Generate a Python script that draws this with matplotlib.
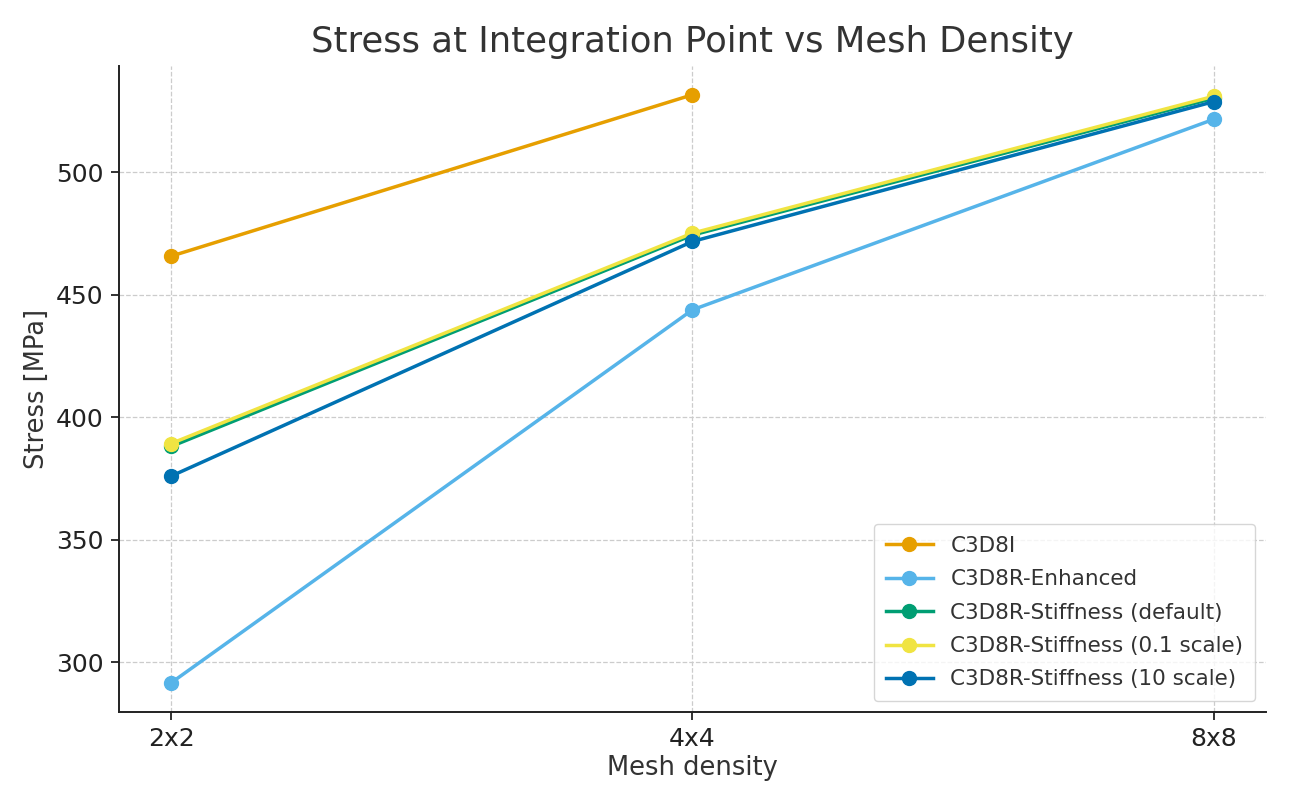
import matplotlib.pyplot as plt
import numpy as np

# ─── Data ────────────────────────────────────────────────────────────────────
meshes = ["2x2", "4x4", "8x8"]
c3d8i = [465.7, 531.6, np.nan]
c3d8r_enhanced = [291.5, 443.8, 521.6]
c3d8r_stiff_default = [388.0, 474.3, 530.2]
c3d8r_stiff_01 = [389.2, 475.1, 531.0]
c3d8r_stiff_10 = [375.9, 471.7, 528.8]

series = [
    ("C3D8I", c3d8i, "#E69F00"),
    ("C3D8R-Enhanced", c3d8r_enhanced, "#56B4E9"),
    ("C3D8R-Stiffness (default)", c3d8r_stiff_default, "#009E73"),
    ("C3D8R-Stiffness (0.1 scale)", c3d8r_stiff_01, "#F0E442"),
    ("C3D8R-Stiffness (10 scale)", c3d8r_stiff_10, "#0072B2"),
]

# ─── Plot ────────────────────────────────────────────────────────────────────
fig = plt.figure(figsize=(12.9, 8.06), dpi=100)
ax = fig.add_axes([0.0922, 0.1166, 0.8892, 0.8014])

x = np.arange(len(meshes))
for label, vals, color in series:
    ax.plot(x, vals, "-o", color=color, linewidth=2.5, markersize=10, label=label)

ax.set_xticks(x)
ax.set_xticklabels(meshes)
ax.set_xlim(-0.1, 2.1)
ax.set_ylim(279.6, 543.3)
ax.set_yticks([300, 350, 400, 450, 500])

ax.grid(True, linestyle="--", color="#cccccc", linewidth=0.9)
ax.set_axisbelow(True)
for side in ["top", "right"]:
    ax.spines[side].set_visible(False)
for side in ["left", "bottom"]:
    ax.spines[side].set_linewidth(1.4)
    ax.spines[side].set_color("#222222")

ax.tick_params(axis="both", labelsize=18, length=6, width=1.3, colors="#222222",
               labelcolor="#222222", pad=5)
ax.set_xlabel("Mesh density", fontsize=18.5, color="#333333", labelpad=3)
ax.set_ylabel("Stress [MPa]", fontsize=18.5, color="#333333", labelpad=4)
ax.set_title("Stress at Integration Point vs Mesh Density", fontsize=25.5,
             color="#333333", pad=10)

leg = ax.legend(loc="lower right", fontsize=15.5, frameon=True, borderpad=0.55,
                handlelength=2.2, labelspacing=0.62)
for t in leg.get_texts():
    t.set_color("#333333")

plt.savefig("out.png", dpi=100)
plt.close()
